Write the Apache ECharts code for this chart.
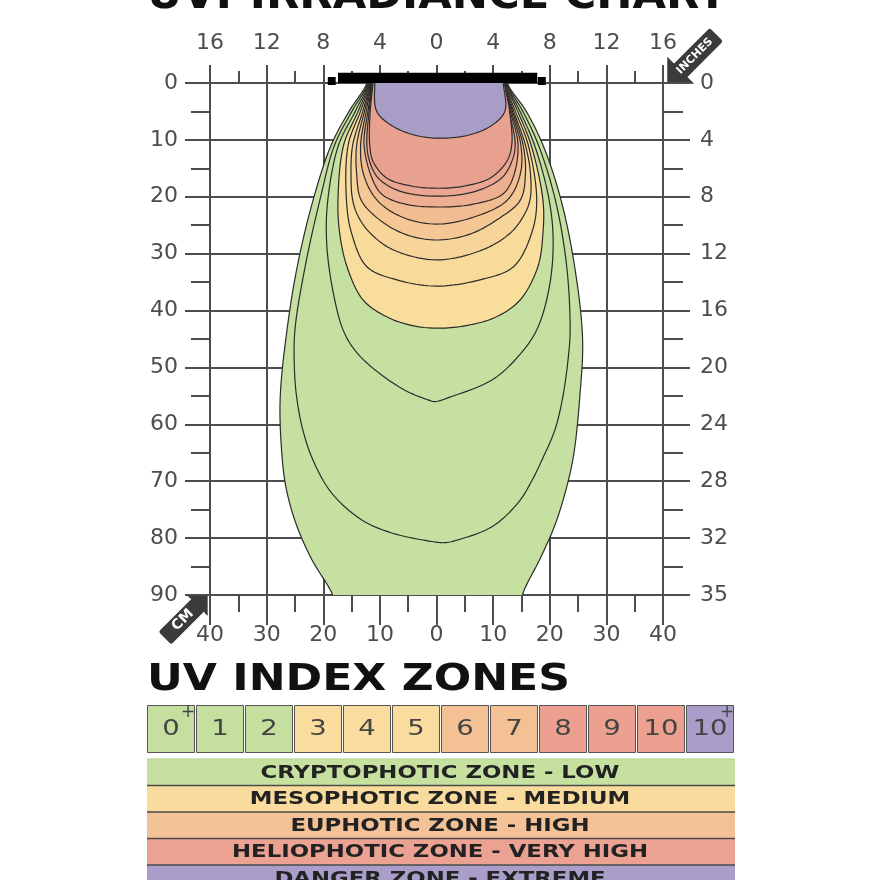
<!DOCTYPE html>
<html><head><meta charset="utf-8">
<script src="https://cdn.jsdelivr.net/npm/echarts@6/dist/echarts.min.js"></script>
<style>html,body{margin:0;padding:0;background:#fff}#c{width:880px;height:880px}</style>
</head><body><div id="c"></div>
<script>
// ---------------- DATA ----------------
const cmTicks = [-40, -30, -20, -10, 0, 10, 20, 30, 40];
const cmBottomLabels = ['40', '30', '20', '10', '0', '10', '20', '30', '40'];
const inchTopLabels = ['16', '12', '8', '4', '0', '4', '8', '12', '16'];
const depthLabelsCm = ['0', '10', '20', '30', '40', '50', '60', '70', '80', '90'];
const depthLabelsInch = ['0', '4', '8', '12', '16', '20', '24', '28', '32', '35'];

const uvIndexLabels = ['0', '1', '2', '3', '4', '5', '6', '7', '8', '9', '10', '10'];
const uvIndexPlus = [true, false, false, false, false, false, false, false, false, false, false, true];
const uvIndexZone = [0, 0, 0, 1, 1, 1, 2, 2, 3, 3, 3, 4];
const zoneNames = ['CRYPTOPHOTIC ZONE - LOW', 'MESOPHOTIC ZONE - MEDIUM', 'EUPHOTIC ZONE - HIGH',
  'HELIOPHOTIC ZONE - VERY HIGH', 'DANGER ZONE - EXTREME'];

// iso-irradiance contours: [x cm, depth cm], outermost (UV 0+) to innermost (UV 10+)
const contourUV0 = [[-12.0,-3],[-12.3,0],[-15.4,4.9],[-18.6,10.9],[-21.8,20.6],[-24.6,32.3],[-26.4,43.4],[-27.6,55.2],[-27.4,64],[-26.6,71],[-24.8,77.5],[-22.0,83.8],[-18.5,89.6],[-17.3,93],[14.5,93],[15.3,89.6],[18.2,83.8],[20.8,78],[22.7,72.1],[24.2,65.5],[25.3,55.2],[25.8,45],[24.4,32.3],[22.0,20.6],[18.8,10.9],[15.8,4.9],[12.5,0],[12.2,-3]];
const contourUV1 = [[-11.9,-3],[-12.1,0],[-14.9,4.9],[-18.0,10.9],[-20.6,20.6],[-23.2,32.3],[-25.0,43.4],[-25.1,50],[-24.7,55.2],[-23.6,61],[-21.8,66.3],[-18.5,72.1],[-13.2,76.8],[-7.9,79.1],[-0.8,80.6],[1.5,80.8],[3.8,80.3],[9.8,78],[14.4,73.8],[16.9,69.8],[18.6,66.3],[20.9,61],[22.3,55.2],[23.3,48],[23.6,43.4],[23.0,32.3],[21.0,20.6],[18.0,10.9],[15.2,4.9],[12.4,0],[12.1,-3]];
const contourUV2 = [[-11.8,-3],[-12.0,0],[-14.3,4.9],[-17.3,10.9],[-19.2,20.6],[-19.4,28],[-18.4,36],[-16.5,43.4],[-14.4,47],[-10.9,50.4],[-5.6,54],[-1.5,55.7],[-0.3,56.0],[2.7,55.1],[9.8,52.2],[14.4,48.1],[17.7,43.4],[19.9,36],[20.6,28],[19.9,20.6],[17.3,10.9],[14.7,4.9],[12.3,0],[12.0,-3]];
const contourUV3 = [[-11.7,-3],[-11.9,0],[-13.8,4.9],[-16.4,10.9],[-17.4,20.6],[-17.1,26.4],[-15.8,32.3],[-13.0,38.1],[-8.8,41.1],[-4.0,42.7],[0.6,43.1],[5.5,42.6],[10.6,41.1],[14.8,38.1],[17.9,32.3],[18.8,26.4],[18.8,20.6],[16.7,10.9],[14.3,4.9],[12.2,0],[11.9,-3]];
const contourUV4 = [[-11.6,-3],[-11.8,0],[-13.4,4.9],[-15.6,10.9],[-15.9,20.6],[-15.0,26.4],[-12.3,32.3],[-7.0,34.6],[0,35.7],[7.7,34.6],[13.6,32.3],[16.8,26.4],[17.7,20.6],[16.2,10.9],[13.9,4.9],[12.1,0],[11.8,-3]];
const contourUV5 = [[-11.5,-3],[-11.7,0],[-13.0,4.9],[-14.8,10.9],[-15.1,16],[-14.8,20.6],[-13.8,23.5],[-11.7,26.4],[-7.7,29.3],[0,31.1],[8.2,29.3],[13.0,26.4],[15.3,23.5],[16.5,20.6],[16.6,16],[15.7,10.9],[13.6,4.9],[12.0,0],[11.8,-3]];
const contourUV6 = [[-11.4,-3],[-11.6,0],[-12.7,4.9],[-14.1,10.9],[-14.1,16],[-13.3,20.6],[-10.0,24.1],[-5.5,26.6],[0,27.6],[5.8,26.6],[10.6,24.1],[14.8,20.6],[15.7,16],[15.3,10.9],[13.4,4.9],[11.9,0],[11.7,-3]];
const contourUV7 = [[-11.3,-3],[-11.5,0],[-12.4,4.9],[-13.4,10.9],[-12.9,16],[-10.5,20.6],[-6.0,23.6],[0,24.8],[6.5,23.6],[12.5,20.6],[14.8,16],[14.9,10.9],[13.2,4.9],[11.9,0],[11.7,-3]];
const contourUV8 = [[-11.2,-3],[-11.4,0],[-12.1,4.9],[-12.8,10.8],[-11.4,16.7],[-9.6,19.6],[-5.5,21.3],[0.6,21.8],[6.5,21.3],[11.6,19.6],[13.5,16.7],[14.4,10.8],[13.0,4.9],[11.8,0],[11.6,-3]];
const contourUV9 = [[-11.1,-3],[-11.3,0],[-11.9,4.9],[-12.3,10.8],[-11.8,13.8],[-10.3,16.7],[-6.5,19.0],[0.6,19.9],[7.0,19.0],[11.5,16.7],[13.3,13.8],[13.9,10.8],[12.8,4.9],[11.8,0],[11.6,-3]];
const contourUV10 = [[-11.0,-3],[-11.2,0],[-11.7,4.9],[-11.8,10.8],[-11.2,13.8],[-8.8,16.7],[-4.5,18.1],[0.6,18.5],[5.0,18.1],[9.5,16.7],[12.4,13.8],[13.3,10.8],[12.9,4.9],[12.0,0],[11.8,-3]];
const contourUV10Plus = [[-10.8,-3],[-10.9,0],[-10.6,4.9],[-8.2,7.3],[-4.1,9.1],[0.6,9.7],[5.9,9.1],[10.0,7.3],[12.1,4.9],[11.8,0],[11.7,-3]];

const contours = [contourUV0, contourUV1, contourUV2, contourUV3, contourUV4, contourUV5,
  contourUV6, contourUV7, contourUV8, contourUV9, contourUV10, contourUV10Plus];

// ---------------- STYLE ----------------
const LINE = '#4d4d4d';
const contourFill = ['#c6e0a1', '#c6e0a1', '#c6e0a1', '#f9dd9c', '#f8da9b', '#f7d49a',
  '#f4c795', '#f1bc92', '#edae91', '#eaa691', '#e9a18f', '#a89dc7'];
const uvBoxFill = ['#c5df9e', '#f9dc9e', '#f4c195', '#eca190', '#a99dc9'];
const zoneBarFill = ['#c6e0a0', '#f9dc9d', '#f3c196', '#eba292', '#a99ec9'];
const FONT = 'DejaVu Sans';

const mctx = document.createElement('canvas').getContext('2d');
function textW(t, size, weight) { mctx.font = (weight || 'normal') + ' ' + size + 'px "' + FONT + '"'; return mctx.measureText(t).width; }

// centripetal Catmull-Rom through the read points (pixel space), for drawing smooth outlines
function smoothPath(pts, n) {
  const out = [];
  const L = pts.length;
  const ext = (a, b) => [2 * a[0] - b[0], 2 * a[1] - b[1]];
  const d = (a, b) => Math.max(Math.pow(Math.hypot(b[0] - a[0], b[1] - a[1]), 0.5), 1e-4);
  for (let i = 0; i < L - 1; i++) {
    const p0 = i > 0 ? pts[i - 1] : ext(pts[0], pts[1]);
    const p1 = pts[i], p2 = pts[i + 1];
    const p3 = i + 2 < L ? pts[i + 2] : ext(pts[L - 1], pts[L - 2]);
    const t0 = 0, t1 = t0 + d(p0, p1), t2 = t1 + d(p1, p2), t3 = t2 + d(p2, p3);
    for (let k = 0; k < n; k++) {
      const t = t1 + (t2 - t1) * k / n;
      const lerp = (a, b, ta, tb) => [((tb - t) * a[0] + (t - ta) * b[0]) / (tb - ta), ((tb - t) * a[1] + (t - ta) * b[1]) / (tb - ta)];
      const A1 = lerp(p0, p1, t0, t1), A2 = lerp(p1, p2, t1, t2), A3 = lerp(p2, p3, t2, t3);
      const B1 = lerp(A1, A2, t0, t2), B2 = lerp(A2, A3, t1, t3);
      out.push(lerp(B1, B2, t1, t2));
    }
  }
  out.push(pts[L - 1]);
  return out;
}

const lbl = { fontFamily: FONT, fontSize: 22, color: LINE };

const chart = echarts.init(document.getElementById('c'), null, { renderer: 'canvas' });

// ---------------- GRAPHICS (titles, legend, badges) ----------------
const graphics = [];
const titleText = 'UVI-IRRADIANCE CHART';
graphics.push({ type: 'text', x: 437, y: -2, scaleX: 580 / textW(titleText, 40, 'bold'),
  style: { text: titleText, fontFamily: FONT, fontWeight: 'bold', fontSize: 40, fill: '#111', align: 'center', verticalAlign: 'middle' } });
const zonesTitle = 'UV INDEX ZONES';
graphics.push({ type: 'text', x: 147, y: 680, scaleX: 423 / textW(zonesTitle, 38, 'bold'),
  style: { text: zonesTitle, fontFamily: FONT, fontWeight: 'bold', fontSize: 38, fill: '#111', align: 'left', verticalAlign: 'middle' } });

uvIndexLabels.forEach((t, i) => {
  const x0 = 147 + 49 * i;
  graphics.push({ type: 'rect', shape: { x: x0 + 0.5, y: 705.5, width: 47, height: 47 },
    style: { fill: uvBoxFill[uvIndexZone[i]], stroke: '#555', lineWidth: 1 } });
  graphics.push({ type: 'text', x: x0 + 24, y: 729, scaleX: 1.25,
    style: { text: t, fontFamily: FONT, fontSize: 22, fill: '#444', align: 'center', verticalAlign: 'middle' } });
  if (uvIndexPlus[i]) {
    graphics.push({ type: 'text', x: x0 + 41, y: 713,
      style: { text: '+', fontFamily: FONT, fontSize: 17, fill: '#444', align: 'center', verticalAlign: 'middle' } });
  }
});

const zoneScale = 359 / textW(zoneNames[0], 18, 'bold');
zoneNames.forEach((t, i) => {
  const y0 = 759 + 26.5 * i;
  graphics.push({ type: 'rect', shape: { x: 147, y: y0, width: 588, height: 26.5 }, style: { fill: zoneBarFill[i] } });
  graphics.push({ type: 'text', x: 440, y: y0 + 14, scaleX: zoneScale,
    style: { text: t, fontFamily: FONT, fontWeight: 'bold', fontSize: 18, fill: '#222', align: 'center', verticalAlign: 'middle' } });
  if (i > 0) graphics.push({ type: 'line', shape: { x1: 147, y1: y0, x2: 735, y2: y0 }, style: { stroke: '#4a4a4a', lineWidth: 1.6 } });
});
graphics.push({ type: 'line', shape: { x1: 147, y1: 759, x2: 735, y2: 759 }, style: { stroke: '#b5d194', lineWidth: 1 } });

// badges
function badge(cx, cy, headLen, x0, x1, half, text, tx, fs) {
  return { type: 'group', x: cx, y: cy, rotation: Math.PI / 4, children: [
    { type: 'polygon', shape: { points: [[headLen, 0], [0, -headLen], [0, headLen]] }, style: { fill: '#3b3b3b', stroke: '#fff', lineWidth: 1 } },
    { type: 'rect', shape: { x: x0, y: -half, width: x1 - x0, height: 2 * half, r: 3 }, style: { fill: '#3b3b3b', stroke: '#fff', lineWidth: 1 } },
    { type: 'polygon', shape: { points: [[headLen - 1, 0], [1, -headLen + 2], [1, headLen - 2]] }, style: { fill: '#3b3b3b' } },
    { type: 'text', x: tx, y: 0, style: { text: text, fontFamily: FONT, fontWeight: 'bold', fontSize: fs, fill: '#fff', align: 'center', verticalAlign: 'middle' } }
  ] };
}
graphics.push(badge(680, 71, -17, -4, 52, 10, 'INCHES', 21, 11));
graphics.push(badge(197, 606, 15.6, -46, 3, 9.5, 'CM', -20, 14));

// ---------------- OPTION ----------------
const option = {
  animation: false,
  backgroundColor: '#fff',
  grid: { left: 210, top: 83, width: 453, height: 512, outerBoundsMode: 'none', containLabel: false },
  xAxis: [
    { type: 'value', position: 'bottom', min: -40, max: 40, interval: 10,
      axisLine: { show: true, onZero: false, lineStyle: { color: LINE, width: 2 } },
      axisTick: { show: true, length: 30, lineStyle: { color: LINE, width: 2 } },
      minorTick: { show: true, splitNumber: 2, length: 17, lineStyle: { color: LINE, width: 2 } },
      splitLine: { show: true, lineStyle: { color: LINE, width: 2 } },
      axisLabel: Object.assign({ margin: 29, formatter: v => cmBottomLabels[cmTicks.indexOf(Math.round(v))] }, lbl) },
    { type: 'value', position: 'top', min: -40, max: 40, interval: 10,
      axisLine: { show: true, onZero: false, lineStyle: { color: LINE, width: 2 } },
      axisTick: { show: true, length: 18, lineStyle: { color: LINE, width: 2 } },
      minorTick: { show: true, splitNumber: 2, length: 12, lineStyle: { color: LINE, width: 2 } },
      splitLine: { show: false },
      axisLabel: Object.assign({ margin: 29, formatter: v => inchTopLabels[cmTicks.indexOf(Math.round(v))] }, lbl) }
  ],
  yAxis: [
    { type: 'value', position: 'left', inverse: true, min: 0, max: 90, interval: 10,
      axisLine: { show: true, onZero: false, lineStyle: { color: LINE, width: 2 } },
      axisTick: { show: true, length: 25, lineStyle: { color: LINE, width: 2 } },
      minorTick: { show: true, splitNumber: 2, length: 19, lineStyle: { color: LINE, width: 2 } },
      splitLine: { show: true, lineStyle: { color: LINE, width: 2 } },
      axisLabel: Object.assign({ margin: 32, formatter: v => depthLabelsCm[Math.round(v / 10)] }, lbl) },
    { type: 'value', position: 'right', inverse: true, min: 0, max: 90, interval: 10,
      axisLine: { show: true, onZero: false, lineStyle: { color: LINE, width: 2 } },
      axisTick: { show: true, length: 27, lineStyle: { color: LINE, width: 2 } },
      minorTick: { show: true, splitNumber: 2, length: 20, lineStyle: { color: LINE, width: 2 } },
      splitLine: { show: false },
      axisLabel: Object.assign({ margin: 37, formatter: v => depthLabelsInch[Math.round(v / 10)] }, lbl) }
  ],
  series: [
    { type: 'custom', name: 'UV zones', xAxisIndex: 0, yAxisIndex: 0, clip: true, z: 2, silent: true,
      data: contours.map(() => [0, 45]),
      renderItem: (params, api) => {
        const pts = smoothPath(contours[params.dataIndex].map(p => api.coord(p)), 10);
        return { type: 'polygon', shape: { points: pts },
          style: { fill: contourFill[params.dataIndex], stroke: '#2b2b2b', lineWidth: 1.2, lineJoin: 'round' } };
      } },
    { type: 'custom', name: 'lamp', xAxisIndex: 0, yAxisIndex: 0, clip: false, z: 5, silent: true,
      data: [[0, 0]],
      renderItem: (params, api) => {
        const r = (x0, y0, x1, y1) => {
          const a = api.coord([x0, y0]), b = api.coord([x1, y1]);
          return { type: 'rect', shape: { x: Math.min(a[0], b[0]), y: Math.min(a[1], b[1]), width: Math.abs(b[0] - a[0]), height: Math.abs(b[1] - a[1]) }, style: { fill: '#000' } };
        };
        return { type: 'group', children: [r(-17.4, -1.8, 17.8, 0), r(-19.2, -1.05, -17.8, 0.35), r(17.9, -1.05, 19.3, 0.35)] };
      } }
  ],
  graphic: graphics
};
chart.setOption(option);
</script>
</body></html>
